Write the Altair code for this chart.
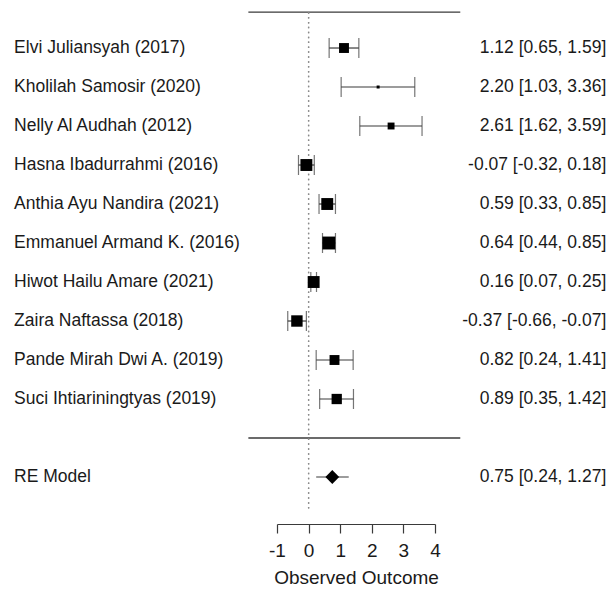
import altair as alt
import pandas as pd

studies = ["Elvi Juliansyah (2017)", "Kholilah Samosir (2020)", "Nelly Al Audhah (2012)",
           "Hasna Ibadurrahmi (2016)", "Anthia Ayu Nandira (2021)", "Emmanuel Armand K. (2016)",
           "Hiwot Hailu Amare (2021)", "Zaira Naftassa (2018)", "Pande Mirah Dwi A. (2019)",
           "Suci Ihtiariningtyas (2019)"]
est = [1.12, 2.20, 2.61, -0.07, 0.59, 0.64, 0.16, -0.37, 0.82, 0.89]
lo = [0.65, 1.03, 1.62, -0.32, 0.33, 0.44, 0.07, -0.66, 0.24, 0.35]
hi = [1.59, 3.36, 3.59, 0.18, 0.85, 0.85, 0.25, -0.07, 1.41, 1.42]
weight = [9.9, 3.0, 6.9, 11.9, 11.9, 12.9, 11.9, 11.4, 9.9, 10.3]

re_label = "RE Model"
re_est, re_lo, re_hi = 0.75, 0.24, 1.27

ticks = [-1, 0, 1, 2, 3, 4]

FONT = "Liberation Sans"
TXT = "#1a1a1a"
LINE = "#3a3a3a"

n = len(studies)
rows = list(range(n, 0, -1))

df = pd.DataFrame({"study": studies, "est": est, "lo": lo, "hi": hi, "w": weight, "row": rows})
df["ci"] = [f"{e:.2f} [{a:.2f}, {b:.2f}]" for e, a, b in zip(est, lo, hi)]
re_df = pd.DataFrame({"study": [re_label], "est": [re_est], "lo": [re_lo], "hi": [re_hi], "row": [-1]})
re_df["ci"] = [f"{re_est:.2f} [{re_lo:.2f}, {re_hi:.2f}]"]
lab_df = pd.concat([df[["study", "ci", "row"]], re_df[["study", "ci", "row"]]], ignore_index=True)

hl = pd.DataFrame({"y": [n + 0.92, 0.0], "x0": [-1.906, -1.906], "x1": [4.80, 4.80]})

xscale = alt.Scale(domain=[-1, 4], nice=False, zero=False)
yscale = alt.Scale(domain=[-2.205, 11.026], nice=False, zero=False)
xaxis = alt.Axis(values=ticks, title="Observed Outcome", grid=False, tickSize=9,
                 labelPadding=8, titlePadding=8, labelFontSize=19, titleFontSize=19,
                 labelFont=FONT, titleFont=FONT, titleFontWeight="normal",
                 domainColor=LINE, tickColor=LINE, labelColor=TXT, titleColor=TXT,
                 domainWidth=1.2, tickWidth=1.2, labelFlush=False,
                 labelExpr="'' + datum.value")
Y = lambda f: alt.Y(f, type="quantitative", scale=yscale, axis=None)

lines = alt.Chart(hl).mark_rule(color=LINE, strokeWidth=1.3).encode(
    x=alt.X("x0:Q", scale=xscale, axis=xaxis), x2="x1:Q", y=Y("y"))

zero = alt.Chart(hl).mark_rule(color="#8a8a8a", strokeWidth=1.3, strokeDash=[1.5, 3.4]).encode(
    x=alt.XDatum(0, type="quantitative", scale=xscale, axis=xaxis),
    y=alt.YDatum(n + 0.92, type="quantitative", scale=yscale, axis=None),
    y2=alt.Y2Datum(-1.85))

base = alt.Chart(df)
ci = base.mark_rule(color=LINE, strokeWidth=1.2).encode(
    x=alt.X("lo:Q", scale=xscale, axis=xaxis), x2="hi:Q", y=Y("row"))
cap_lo = base.mark_tick(color=LINE, orient="vertical", size=20, thickness=1.2).encode(
    x=alt.X("lo:Q", scale=xscale, axis=xaxis), y=Y("row"))
cap_hi = base.mark_tick(color=LINE, orient="vertical", size=20, thickness=1.2).encode(
    x=alt.X("hi:Q", scale=xscale, axis=xaxis), y=Y("row"))
sq = base.mark_point(shape="square", filled=True, color="black", opacity=1, strokeWidth=0).encode(
    x=alt.X("est:Q", scale=xscale, axis=xaxis), y=Y("row"),
    size=alt.Size("w:Q", scale=alt.Scale(type="pow", exponent=2, domain=[0, 13], range=[0, 169]), legend=None))

rbase = alt.Chart(re_df)
re_ci = rbase.mark_rule(color=LINE, strokeWidth=1.2).encode(
    x=alt.X("lo:Q", scale=xscale, axis=xaxis), x2="hi:Q", y=Y("row"))
re_pt = rbase.mark_point(shape="diamond", filled=True, color="black", opacity=1, size=190, strokeWidth=0).encode(
    x=alt.X("est:Q", scale=xscale, axis=xaxis), y=Y("row"))

tbase = alt.Chart(lab_df)
left = tbase.mark_text(align="left", baseline="middle", font=FONT, fontSize=17.5, color=TXT).encode(
    x=alt.XDatum(-9.32, type="quantitative", scale=xscale, axis=xaxis), y=Y("row"), text="study:N")
right = tbase.mark_text(align="right", baseline="middle", font=FONT, fontSize=17.5, color=TXT).encode(
    x=alt.XDatum(9.42, type="quantitative", scale=xscale, axis=xaxis), y=Y("row"), text="ci:N")

chart = alt.layer(lines, zero, ci, cap_lo, cap_hi, sq, re_ci, re_pt, left, right).properties(
    width=158, height=516,
    autosize=alt.AutoSizeParams(type="none"),
    padding={"left": 269, "top": 0, "right": 172, "bottom": 64},
).configure_view(stroke=None)

chart.save("out.html", embed_options={"renderer": "svg", "actions": False})
